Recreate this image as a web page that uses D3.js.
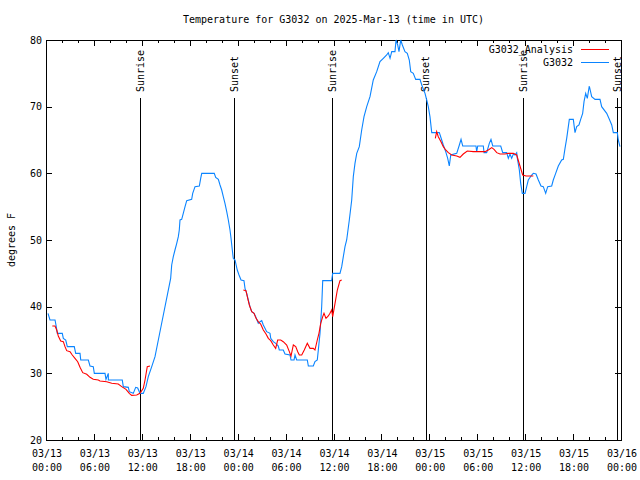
<!DOCTYPE html>
<html><head><meta charset="utf-8">
<script src="https://cdn.jsdelivr.net/npm/d3@7"></script>
<style>
body{margin:0;background:#fff;}
svg{display:block;}
text{font-family:"DejaVu Sans Mono",monospace;font-size:10px;fill:#000;}
</style></head><body>
<svg id="c" width="640" height="480"></svg>
<script>
// ---- data (hours since 2025-03-13 00:00 UTC) ----
const titleText = "Temperature for G3032 on 2025-Mar-13 (time in UTC)";
const yLabel = "degrees F";
const xTickDates = ["03/13","03/13","03/13","03/13","03/14","03/14","03/14","03/14","03/15","03/15","03/15","03/15","03/16"];
const xTickTimes = ["00:00","06:00","12:00","18:00","00:00","06:00","12:00","18:00","00:00","06:00","12:00","18:00","00:00"];
const yTicks = [20,30,40,50,60,70,80];
const sunTimes  = [11.78, 23.58, 35.82, 47.52, 59.77, 71.54];
const sunLabels = ["Sunrise","Sunset","Sunrise","Sunset","Sunrise","Sunset"];
const seriesNames = ["G3032_Analysis","G3032"];

const obsHours = [0.25,0.5,1.13,1.25,1.42,2.04,2.17,2.47,2.67,3.54,3.72,4.26,4.35,5.3,5.51,5.92,6.05,7.39,7.51,7.8,7.81,9.55,9.68,10.31,10.43,10.93,11.23,11.48,11.77,12.18,12.52,12.81,13.24,13.65,14.19,15.61,15.74,15.94,16.15,16.37,16.57,16.69,16.78,16.99,17.19,17.41,17.62,18.24,18.37,18.66,19.2,19.37,19.5,21.07,21.25,21.58,21.79,22.0,22.2,22.41,22.63,22.83,23.04,23.17,23.33,23.45,23.67,23.95,24.17,24.42,24.79,24.92,25.13,25.33,25.54,25.76,26.05,26.26,26.58,26.8,27.01,27.21,27.42,27.63,28.05,28.14,28.46,28.76,29.09,29.21,29.71,29.93,30.55,30.68,31.06,31.18,31.39,32.72,32.85,33.47,33.68,33.97,34.1,34.31,34.52,34.65,35.77,35.9,36.81,37.03,37.23,37.44,37.65,37.98,38.28,38.48,38.69,38.91,39.23,39.53,39.82,40.16,40.57,40.98,41.41,41.82,42.24,42.66,42.86,43.08,43.29,43.7,43.83,44.04,44.2,44.42,44.62,44.95,45.24,45.49,45.67,45.99,46.29,46.83,47.05,47.46,47.67,47.87,48.08,48.3,49.25,49.55,49.75,50.05,50.3,50.5,50.68,51.43,51.76,51.97,52.18,53.84,53.93,54.06,54.76,54.85,55.18,55.51,55.72,55.94,56.94,57.19,57.69,57.89,58.1,58.31,58.52,58.73,58.94,59.02,59.27,59.44,59.64,59.98,60.19,60.39,60.82,61.02,61.36,61.65,61.98,62.27,62.57,62.82,63.32,63.52,63.82,64.15,64.57,64.78,64.99,65.2,65.53,66.03,66.24,66.45,66.74,66.95,67.2,67.37,67.58,67.78,68.03,68.33,68.75,69.37,69.58,70.21,70.54,70.84,71.04,71.54,71.66,71.87];
const obsTemps = [39.0,38.0,38.0,37.25,36.0,36.0,35.25,35.0,34.0,34.0,33.0,33.0,32.0,32.0,31.1,31.0,30.0,30.0,29.1,30.0,29.0,29.0,28.0,27.9,27.25,27.0,27.9,27.8,27.0,27.0,28.0,29.5,31.0,32.5,35.75,44.25,46.25,47.5,48.5,49.5,50.5,51.5,53.0,53.1,54.0,55.0,55.9,56.1,57.0,58.0,58.1,59.25,60.0,60.0,59.4,59.1,58.25,57.5,56.5,55.5,54.25,53.0,51.5,50.25,48.5,47.25,47.0,45.5,44.75,44.0,43.9,42.75,42.0,41.0,40.0,39.25,39.0,38.5,37.5,37.75,37.9,37.25,36.75,36.25,36.0,35.25,34.75,34.5,34.1,33.5,33.5,32.9,32.75,32.0,32.0,32.75,32.0,32.0,31.1,31.1,31.75,32.0,33.5,36.0,40.0,43.9,43.9,45.0,45.0,46.0,47.5,49.0,50.0,53.0,56.0,59.5,61.5,63.0,64.0,66.5,68.5,70.0,71.5,74.0,75.25,76.75,77.25,77.75,78.1,77.25,78.25,78.25,80.0,79.25,78.25,80.0,79.25,78.25,78.0,77.0,75.25,75.0,74.1,74.1,73.25,72.0,71.0,70.0,68.5,66.1,66.1,65.0,64.25,63.25,62.25,61.1,62.75,63.0,64.25,65.1,64.1,64.1,63.25,64.1,64.1,63.1,63.1,64.5,65.1,64.1,64.1,63.1,63.1,62.25,62.9,62.25,62.9,62.75,63.1,62.25,60.5,58.5,57.0,57.0,58.0,59.0,59.75,60.0,59.9,59.0,58.1,58.0,57.0,58.0,58.1,59.0,60.0,61.1,62.0,62.1,63.75,65.25,68.1,68.1,66.1,67.0,67.25,68.1,69.0,70.75,72.0,71.25,73.1,71.5,71.1,71.1,70.0,69.0,68.1,67.25,66.1,66.1,65.0,64.0];

const anaHours = [0.79,1.13,1.34,1.54,1.84,2.17,2.38,2.59,3.01,3.29,3.63,3.97,4.26,4.6,5.1,5.51,5.92,6.55,6.76,7.6,8.23,9.05,9.48,10.02,10.43,10.73,11.36,11.77,12.18,12.4,12.68,13.02,18.0,24.71,25.04,25.26,25.46,25.76,26.05,26.3,26.58,26.88,27.21,27.55,27.84,28.14,28.46,28.76,29.01,29.39,29.71,30.14,30.47,30.68,30.97,31.27,31.52,31.72,32.02,32.34,32.72,33.06,33.47,33.68,33.97,34.18,34.4,34.65,34.81,35.06,35.35,35.56,35.77,35.9,36.19,36.48,36.81,37.03,42.0,48.75,48.92,49.12,49.46,49.75,50.05,50.38,50.8,51.43,51.84,52.25,52.75,53.5,54.34,54.97,55.39,55.81,56.1,56.44,56.85,57.48,57.89,58.52,58.94,59.35,59.69,60.11,61.02];
const anaTemps = [37.1,37.1,36.5,35.6,34.85,34.75,34.0,33.4,33.25,32.75,32.25,31.75,30.9,30.1,29.85,29.4,29.1,29.0,28.85,28.75,28.5,28.4,28.0,27.6,27.0,26.7,26.75,27.0,27.75,29.0,31.0,31.1,null,42.5,42.4,41.25,40.25,39.25,39.0,38.25,37.75,37.4,36.5,35.9,35.25,34.9,34.25,33.75,35.0,35.0,34.75,34.25,33.25,32.6,34.25,34.0,33.25,32.75,32.75,33.5,34.5,33.75,33.75,33.5,35.0,36.0,37.5,38.5,39.0,38.25,38.6,39.0,39.5,38.5,40.5,42.5,43.9,44.0,null,65.25,66.25,65.5,64.75,64.0,63.5,63.1,62.75,62.6,62.4,62.9,63.35,63.25,63.25,63.25,63.5,63.85,63.6,63.1,62.9,62.9,63.0,63.0,62.75,61.1,59.75,59.6,59.6];

// ---- drawing ----
const L=46, R=621, T=40, B=440;
const svg = d3.select("#c");
const x = d3.scaleLinear().domain([0,72]).range([L,R]);
const y = d3.scaleLinear().domain([20,80]).range([B,T]);
const blue = "#0a84ff", red = "#ff0000";

svg.append("text").attr("x",(L+R)/2).attr("y",23).attr("text-anchor","middle").text(titleText);
svg.append("text").attr("transform",`translate(15,${(T+B)/2}) rotate(-90)`).attr("text-anchor","middle").text(yLabel);

const g = svg.append("g").attr("shape-rendering","crispEdges");
g.append("rect").attr("x",L+0.5).attr("y",T+0.5).attr("width",R-L).attr("height",B-T)
  .attr("fill","none").attr("stroke","#000");

const minorX = d3.range(0,73,2).filter(h=>h%6!==0);
const majorX = d3.range(0,73,6);
[[majorX,6],[minorX,3]].forEach(([arr,len])=>{
  arr.forEach(h=>{
    const px=Math.round(x(h))+0.5;
    g.append("line").attr("x1",px).attr("x2",px).attr("y1",B).attr("y2",B-len).attr("stroke","#000");
    g.append("line").attr("x1",px).attr("x2",px).attr("y1",T).attr("y2",T+len).attr("stroke","#000");
  });
});
majorX.forEach((h,i)=>{
  const t=svg.append("text").attr("x",x(h)+1).attr("text-anchor","middle");
  t.append("tspan").attr("x",x(h)+1).attr("y",457).text(xTickDates[i]);
  t.append("tspan").attr("x",x(h)+1).attr("y",471).text(xTickTimes[i]);
});
yTicks.forEach(v=>{
  const py=Math.round(y(v))+0.5;
  g.append("line").attr("x1",L).attr("x2",L+6).attr("y1",py).attr("y2",py).attr("stroke","#000");
  g.append("line").attr("x1",R).attr("x2",R-6).attr("y1",py).attr("y2",py).attr("stroke","#000");
  svg.append("text").attr("x",42).attr("y",y(v)).attr("dy","0.35em").attr("text-anchor","end").text(v);
});

sunTimes.forEach((h,i)=>{
  const px=Math.round(x(h))+0.5;
  g.append("line").attr("x1",px).attr("x2",px).attr("y1",B).attr("y2",98).attr("stroke","#000");
  svg.append("text").attr("transform",`translate(${x(h)},92) rotate(-90)`).attr("dy","0.35em")
    .attr("text-anchor","start").text(sunLabels[i]);
});

const obs = obsHours.map((h,i)=>[h,obsTemps[i]]);
const ana = anaHours.map((h,i)=>[h,anaTemps[i]]);
const line2 = d3.line().defined(d=>d[1]!==null).x(d=>x(d[0])).y(d=>y(d[1]));
svg.append("path").datum(obs).attr("d",line2).attr("fill","none").attr("stroke",blue).attr("stroke-width",1.1);
svg.append("path").datum(ana).attr("d",line2).attr("fill","none").attr("stroke",red).attr("stroke-width",1.1);

const legY=[49,62], legC=[red,blue];
seriesNames.forEach((n,i)=>{
  svg.append("text").attr("x",573).attr("y",legY[i]).attr("dy","0.35em").attr("text-anchor","end").text(n);
  g.append("line").attr("x1",581).attr("x2",609).attr("y1",legY[i]+0.5).attr("y2",legY[i]+0.5).attr("stroke",legC[i]);
});
</script></body></html>
